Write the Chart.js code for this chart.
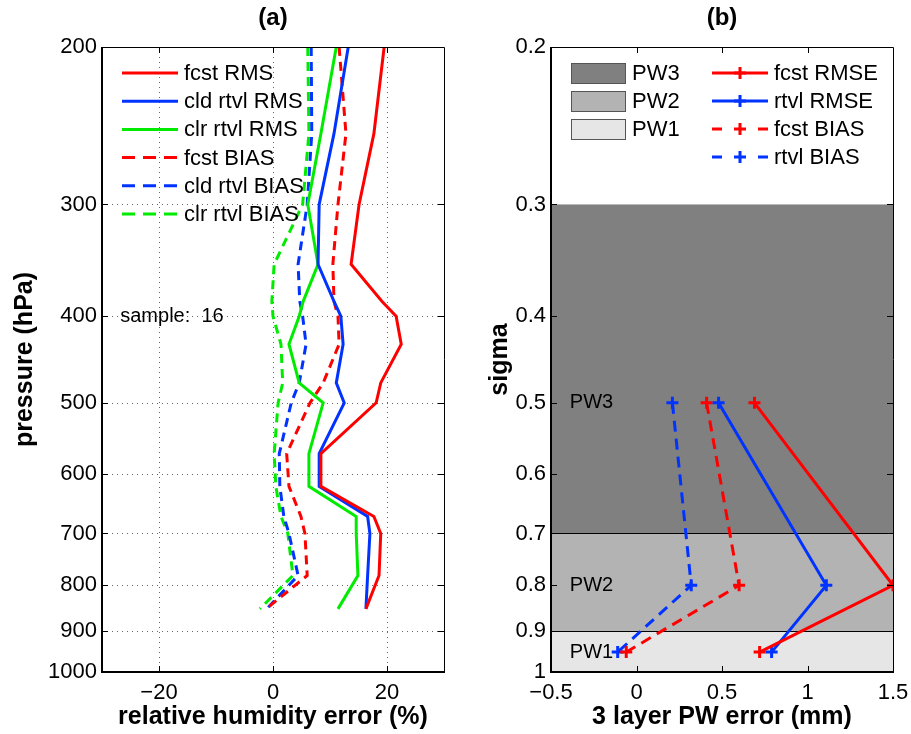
<!DOCTYPE html>
<html>
<head>
<meta charset="utf-8">
<title>RH and PW error profiles</title>
<script src="https://cdn.jsdelivr.net/npm/chart.js@4.4.1/dist/chart.umd.min.js"></script>
<style>
    body { margin: 0; background: #fff; width: 911px; height: 734px; position: relative; overflow: hidden; }
    canvas { position: absolute; top: 0; }
    #ca { left: 0; }
    #cb { left: 455px; }
</style>
</head>
<body>
<canvas id="ca" width="455" height="734"></canvas>
<canvas id="cb" width="456" height="734"></canvas>
<script>
// ---- panel (a): relative humidity error profiles ----
const pressure  = [200, 250, 300, 350, 385, 400, 430, 475, 500, 570, 620, 670, 700, 780, 850];
const fcstRms   = [19.5, 17.7, 15.1, 13.7, 19.1, 21.6, 22.5, 18.9, 18.1, 8.4, 8.4, 17.7, 18.9, 18.6, 16.3];
const cldRms    = [13.2, 10.7, 8.1, 7.9, 10.7, 11.9, 12.3, 11.1, 12.5, 8.1, 8.1, 16.6, 17.0, 16.6, 16.3];
const clrRms    = [11.1, 8.4, 6.1, 7.9, 5.3, 4.6, 2.8, 4.6, 8.8, 6.3, 6.3, 14.6, 14.6, 14.9, 11.4];
const fcstBias  = [11.6, 12.8, 11.4, 10.5, 10.7, 11.4, 11.6, 8.8, 6.5, 2.4, 2.8, 4.9, 5.6, 6.0, -1.2];
const cldBias   = [6.7, 6.8, 6.0, 4.4, 4.7, 5.2, 5.8, 4.6, 3.2, 1.1, 1.2, 1.9, 2.8, 4.4, -1.1];
const clrBias   = [6.1, 6.3, 5.2, 0.2, -0.2, 0.0, 1.4, 1.7, 0.9, 0.2, 0.5, 1.4, 2.6, 3.5, -2.3];
const pressureTicks = [200, 300, 400, 500, 600, 700, 800, 900, 1000];
const rhTicks = [-30, -20, 0, 20, 30];

// ---- panel (b): 3 layer precipitable water error ----
const sigmaLevels = [0.5, 0.8, 0.95];
const fcstRmse    = [0.69, 1.5, 0.72];
const rtvlRmse    = [0.48, 1.11, 0.79];
const fcstBiasPw  = [0.41, 0.60, -0.06];
const rtvlBiasPw  = [0.21, 0.32, -0.11];
const sigmaTicks  = [0.2, 0.3, 0.4, 0.5, 0.6, 0.7, 0.8, 0.9, 1];
const pwTicks     = [-0.5, 0, 0.5, 1, 1.5];
const bandNames   = ['PW3', 'PW2', 'PW1'];
const bandEdges   = [0.3, 0.7, 0.9, 1.0];
const bandColors  = ['#808080', '#b3b3b3', '#e6e6e6'];

const FONT = "'Liberation Sans', Arial, Helvetica, sans-serif";
const RED = 'rgb(255,0,0)', BLUE = 'rgb(0,51,255)', GREEN = 'rgb(0,235,0)';

function fmt(v) {
    return v < 0 ? '\u2212' + Math.abs(v) : String(v);
}

function pts(xs, ys) {
    return xs.map((v, i) => ({ x: v, y: ys[i] }));
}

function drawCross(ctx, x, y, r) {
    ctx.beginPath();
    ctx.moveTo(x - r, y); ctx.lineTo(x + r, y);
    ctx.moveTo(x, y - r); ctx.lineTo(x, y + r);
    ctx.stroke();
}

// frame, grid, bands, legend and notes, MATLAB style
const frame = {
    id: 'frame',
    beforeDatasetsDraw(chart, args, opts) {
        const { ctx, chartArea: a, scales: { x, y } } = chart;
        ctx.save();
        if (opts.bands) {
            bandNames.forEach((n, i) => {
                const y0 = y.getPixelForValue(bandEdges[i]);
                const y1 = y.getPixelForValue(bandEdges[i + 1]);
                ctx.fillStyle = bandColors[i];
                ctx.fillRect(a.left, y0, a.right - a.left, y1 - y0);
            });
            ctx.strokeStyle = '#000';
            ctx.lineWidth = 1;
            bandEdges.slice(1, -1).forEach(e => {
                const yy = Math.round(y.getPixelForValue(e)) + 0.5;
                ctx.beginPath(); ctx.moveTo(a.left, yy); ctx.lineTo(a.right, yy); ctx.stroke();
            });
        }
        if (opts.grid) {
            ctx.strokeStyle = '#666';
            ctx.lineWidth = 1;
            ctx.setLineDash([1, 4]);
            x.ticks.forEach(t => {
                const xx = Math.round(x.getPixelForValue(t.value)) + 0.5;
                if (xx <= a.left + 2 || xx >= a.right - 2) return;
                ctx.beginPath(); ctx.moveTo(xx, a.top); ctx.lineTo(xx, a.bottom); ctx.stroke();
            });
            y.ticks.forEach(t => {
                const yy = Math.round(y.getPixelForValue(t.value)) + 0.5;
                if (yy <= a.top + 2 || yy >= a.bottom - 2) return;
                ctx.beginPath(); ctx.moveTo(a.left, yy); ctx.lineTo(a.right, yy); ctx.stroke();
            });
        }
        ctx.restore();
    },
    afterDatasetsDraw(chart, args, opts) {
        const { ctx, chartArea: a, scales: { x, y } } = chart;
        ctx.save();
        ctx.setLineDash([]);
        ctx.strokeStyle = '#000';

        // inward ticks
        ctx.lineWidth = 1;
        const tl = 6;
        x.ticks.forEach(t => {
            const xx = Math.round(x.getPixelForValue(t.value)) + 0.5;
            if (xx <= a.left + 2 || xx >= a.right - 2) return;
            ctx.beginPath();
            ctx.moveTo(xx, a.bottom); ctx.lineTo(xx, a.bottom - tl);
            ctx.moveTo(xx, a.top); ctx.lineTo(xx, a.top + tl);
            ctx.stroke();
        });
        y.ticks.forEach(t => {
            const yy = Math.round(y.getPixelForValue(t.value)) + 0.5;
            if (yy <= a.top + 2 || yy >= a.bottom - 2) return;
            ctx.beginPath();
            ctx.moveTo(a.left, yy); ctx.lineTo(a.left + tl, yy);
            ctx.moveTo(a.right, yy); ctx.lineTo(a.right - tl, yy);
            ctx.stroke();
        });

        // box: thin top/right, heavier left/bottom
        ctx.lineWidth = 1;
        ctx.beginPath();
        ctx.moveTo(a.left, a.top + 0.5); ctx.lineTo(a.right + 0.5, a.top + 0.5); ctx.lineTo(a.right + 0.5, a.bottom);
        ctx.stroke();
        ctx.lineWidth = 2;
        ctx.beginPath();
        ctx.moveTo(a.left, a.top); ctx.lineTo(a.left, a.bottom); ctx.lineTo(a.right + 1, a.bottom);
        ctx.stroke();

        // notes in data coordinates
        ctx.fillStyle = '#000';
        ctx.textBaseline = 'middle';
        ctx.textAlign = 'left';
        (opts.notes || []).forEach(n => {
            ctx.font = n.font;
            ctx.fillText(n.text, x.getPixelForValue(n.x), y.getPixelForValue(n.y));
        });

        // legend
        const L = opts.legend;
        if (L) {
            ctx.font = L.font;
            if (L.swatches) {
                bandNames.forEach((n, i) => {
                    const yy = a.top + L.top + i * L.rowH;
                    const x0 = a.left + L.swLeft;
                    ctx.fillStyle = bandColors[i];
                    ctx.fillRect(x0, yy - 10, L.swW, 20);
                    ctx.strokeStyle = '#555';
                    ctx.lineWidth = 1;
                    ctx.strokeRect(x0 + 0.5, yy - 9.5, L.swW, 20);
                    ctx.fillStyle = '#000';
                    ctx.fillText(n, x0 + L.swW + 7, yy + 1);
                });
            }
            chart.data.datasets.forEach((ds, i) => {
                const yy = a.top + L.top + i * L.rowH;
                const x0 = a.left + L.left;
                ctx.strokeStyle = ds.borderColor;
                ctx.lineWidth = ds.borderWidth;
                ctx.lineCap = 'butt';
                const dashed = ds.borderDash && ds.borderDash.length;
                if (dashed && ds.pointRadius > 0) {
                    ctx.setLineDash([]);
                    ctx.beginPath();
                    ctx.moveTo(x0, yy); ctx.lineTo(x0 + 10, yy);
                    ctx.moveTo(x0 + L.len - 10, yy); ctx.lineTo(x0 + L.len, yy);
                    ctx.stroke();
                } else {
                    ctx.setLineDash(dashed ? L.dash : []);
                    ctx.beginPath(); ctx.moveTo(x0, yy); ctx.lineTo(x0 + L.len, yy); ctx.stroke();
                    ctx.setLineDash([]);
                }
                if (ds.pointRadius > 0) drawCross(ctx, x0 + L.len / 2, yy, ds.pointRadius);
                ctx.fillStyle = '#000';
                ctx.fillText(ds.label, x0 + L.len + 6, yy + 1);
            });
        }
        ctx.restore();
    }
};

function axisOpts(extra) {
    return Object.assign({
        grid: { display: false, drawTicks: false },
        border: { display: false }
    }, extra);
}

const tickFont = { family: FONT, size: 22 };
const titleFont = { family: FONT, size: 25, weight: 'bold' };
const headFont = { family: FONT, size: 24, weight: 'bold' };

// keep the plot area where the layout padding puts it
function fixX(s) {
    s.height = 62;
    s.paddingLeft = 0;
    s.paddingRight = 0;
}

function lineSet(label, xs, ys, color, dashed, marker) {
    return {
        label: label,
        data: pts(xs, ys),
        borderColor: color,
        backgroundColor: color,
        borderWidth: 3,
        borderDash: dashed ? (marker ? [11, 7] : [9, 6]) : [],
        pointRadius: marker ? 6 : 0,
        pointStyle: 'cross',
        pointBorderWidth: 3,
        pointHoverRadius: 0,
        tension: 0,
        fill: false
    };
}

// ---- chart (a) ----
new Chart(document.getElementById('ca'), {
    type: 'line',
    data: {
        datasets: [
            lineSet('fcst RMS', fcstRms, pressure, RED, false, false),
            lineSet('cld rtvl RMS', cldRms, pressure, BLUE, false, false),
            lineSet('clr rtvl RMS', clrRms, pressure, GREEN, false, false),
            lineSet('fcst BIAS', fcstBias, pressure, RED, true, false),
            lineSet('cld rtvl BIAS', cldBias, pressure, BLUE, true, false),
            lineSet('clr rtvl BIAS', clrBias, pressure, GREEN, true, false)
        ]
    },
    options: {
        responsive: false,
        animation: false,
        events: [],
        layout: { padding: { right: 11 } },
        plugins: {
            legend: { display: false },
            tooltip: { enabled: false },
            title: { display: true, fullSize: false, text: '(a)', color: '#000', font: headFont, padding: { top: 3.6, bottom: 14.6 } },
            frame: {
                grid: true,
                notes: [{ text: 'sample:  16', x: -26.8, y: 400, font: '20px ' + FONT }],
                legend: { left: 20, top: 26, rowH: 28.2, len: 56, font: '22px ' + FONT, dash: [13, 8] }
            }
        },
        scales: {
            x: axisOpts({
                type: 'linear', min: -30, max: 30,
                afterBuildTicks: s => { s.ticks = rhTicks.map(v => ({ value: v })); },
                afterFit: fixX,
                ticks: {
                    color: '#000', font: tickFont, padding: 8, maxRotation: 0, autoSkip: false,
                    callback: v => (v === -30 || v === 30) ? '' : fmt(v)
                },
                title: { display: true, text: 'relative humidity error (%)', color: '#000', font: titleFont, padding: { top: 0, bottom: 2 } }
            }),
            y: axisOpts({
                type: 'logarithmic', min: 200, max: 1000, reverse: true, bounds: 'data',
                afterBuildTicks: s => { s.ticks = pressureTicks.map(v => ({ value: v })); },
                afterFit: s => { s.width = 102; },
                ticks: { color: '#000', font: tickFont, padding: 5, autoSkip: false, callback: v => String(v) },
                title: { display: true, text: 'pressure (hPa)', color: '#000', font: titleFont, padding: { top: 10, bottom: 0 } }
            })
        }
    },
    plugins: [frame]
});

// ---- chart (b) ----
new Chart(document.getElementById('cb'), {
    type: 'line',
    data: {
        datasets: [
            lineSet('fcst RMSE', fcstRmse, sigmaLevels, RED, false, true),
            lineSet('rtvl RMSE', rtvlRmse, sigmaLevels, BLUE, false, true),
            lineSet('fcst BIAS', fcstBiasPw, sigmaLevels, RED, true, true),
            lineSet('rtvl BIAS', rtvlBiasPw, sigmaLevels, BLUE, true, true)
        ]
    },
    options: {
        responsive: false,
        animation: false,
        events: [],
        layout: { padding: { right: 18 } },
        plugins: {
            legend: { display: false },
            tooltip: { enabled: false },
            title: { display: true, fullSize: false, text: '(b)', color: '#000', font: headFont, padding: { top: 3.6, bottom: 14.6 } },
            frame: {
                bands: true,
                notes: bandNames.map((n, i) => ({ text: n, x: -0.39, y: sigmaLevels[i], font: '20px ' + FONT })),
                legend: { swatches: true, swLeft: 20, swW: 54, left: 161, top: 26, rowH: 28, len: 56, font: '22px ' + FONT, dash: [10, 7] }
            }
        },
        scales: {
            x: axisOpts({
                type: 'linear', min: -0.5, max: 1.5,
                afterBuildTicks: s => { s.ticks = pwTicks.map(v => ({ value: v })); },
                afterFit: fixX,
                ticks: { color: '#000', font: tickFont, padding: 8, maxRotation: 0, autoSkip: false, callback: v => fmt(v) },
                title: { display: true, text: '3 layer PW error (mm)', color: '#000', font: titleFont, padding: { top: 0, bottom: 2 } }
            }),
            y: axisOpts({
                type: 'logarithmic', min: 0.2, max: 1, reverse: true, bounds: 'data',
                afterBuildTicks: s => { s.ticks = sigmaTicks.map(v => ({ value: v })); },
                afterFit: s => { s.width = 96; },
                ticks: { color: '#000', font: tickFont, padding: 5, autoSkip: false, callback: v => String(v) },
                title: { display: true, text: 'sigma', color: '#000', font: titleFont, padding: { top: 30, bottom: 0 } }
            })
        }
    },
    plugins: [frame]
});
</script>
</body>
</html>
